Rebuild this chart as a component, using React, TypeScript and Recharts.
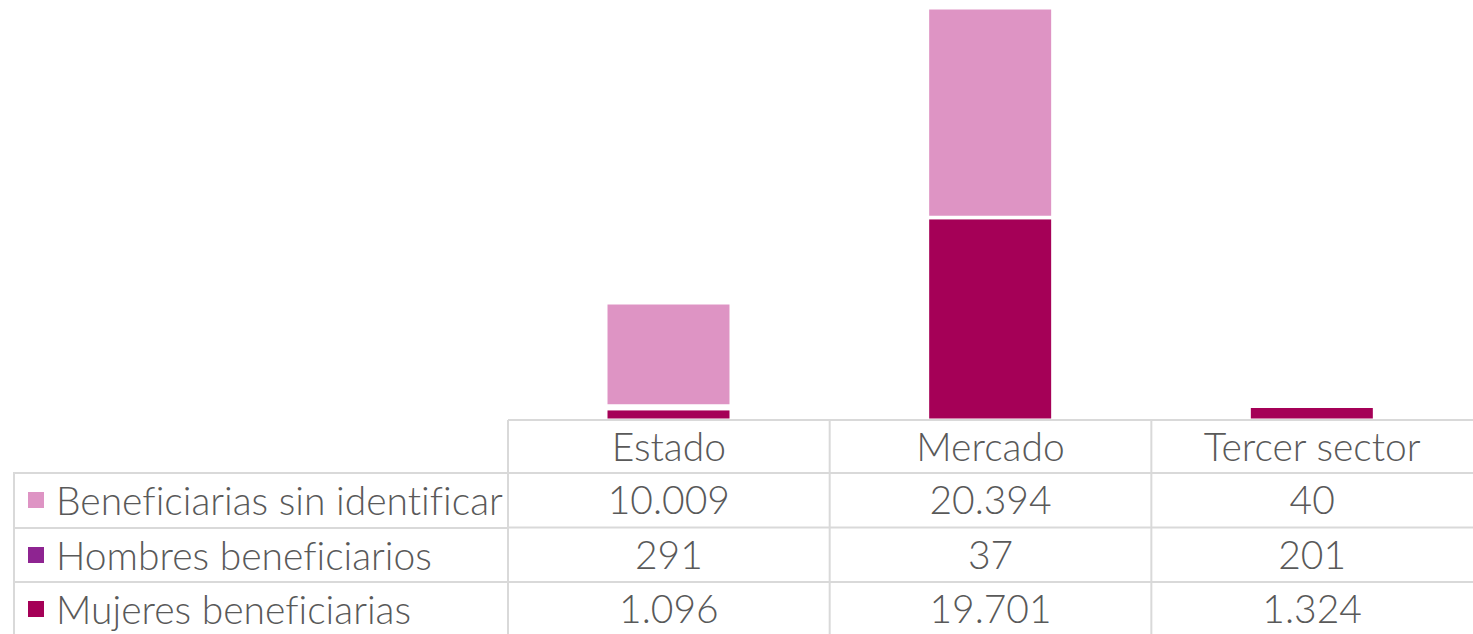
import { Bar, BarChart, XAxis, YAxis } from "recharts";

const categories = ["Estado", "Mercado", "Tercer sector"];
const mujeres = [1096, 19701, 1324];
const hombres = [291, 37, 201];
const sinIdentificar = [10009, 20394, 40];

const series = [
  { key: "mujeres", name: "Mujeres beneficiarias", color: "#A50057", values: mujeres },
  { key: "hombres", name: "Hombres beneficiarios", color: "#8E2491", values: hombres },
  { key: "sinIdentificar", name: "Beneficiarias sin identificar", color: "#DE94C4", values: sinIdentificar },
];

const data = categories.map((name, i) => ({
  name,
  mujeres: mujeres[i],
  hombres: hombres[i],
  sinIdentificar: sinIdentificar[i],
}));

const W = 1473;
const H = 634;
const LEFT = 508;
const AXIS_H = 214;
const BAND = (W - LEFT) / categories.length;
const ROW_H = 54.5;
const GRID = "#D9D9D9";
const TEXT = "#595959";
const FONT = "Lato, 'Noto Sans', sans-serif";
const FS = 39;

const fmt = (n: number) => n.toLocaleString("de-DE");

// table rows, top to bottom (reverse of the stacking order)
const tableRows = [...series].reverse();

const TableTick = (props: any) => {
  const { x, y, payload } = props;
  const i = categories.indexOf(payload.value);
  const half = BAND / 2;
  const top = y;
  const txt = { textAnchor: "middle" as const, dominantBaseline: "central" as const, fill: TEXT, fontSize: FS, fontWeight: 300, fontFamily: FONT };
  return (
    <g>
      <line x1={x - half} x2={x - half} y1={top} y2={top + AXIS_H} stroke={GRID} strokeWidth={2} />
      {tableRows.map((s, r) => (
        <line
          key={s.key}
          x1={x - half}
          x2={x + half}
          y1={top + 53 + r * ROW_H}
          y2={top + 53 + r * ROW_H}
          stroke={GRID}
          strokeWidth={2}
        />
      ))}
      <text x={x} y={top + 26} {...txt}>
        {payload.value}
      </text>
      {tableRows.map((s, r) => (
        <text key={s.key} x={x} y={top + 79 + r * ROW_H} {...txt}>
          {fmt(s.values[i])}
        </text>
      ))}
    </g>
  );
};

const TableLegend = () => (
  <div
    style={{
      position: "absolute",
      left: 0,
      top: 420 + 52,
      width: LEFT,
      fontFamily: FONT,
      fontWeight: 300,
      fontSize: FS,
      color: TEXT,
      fontVariantLigatures: "none",
    }}
  >
    {tableRows.map((s) => (
      <div
        key={s.key}
        style={{
          height: ROW_H,
          boxSizing: "border-box",
          borderTop: `2px solid ${GRID}`,
          borderLeft: `2px solid ${GRID}`,
          marginLeft: 13,
          display: "flex",
          alignItems: "center",
          paddingLeft: 13,
          whiteSpace: "nowrap",
        }}
      >
        <span style={{ width: 16, height: 16, background: s.color, marginRight: 12, flex: "none" }} />
        {s.name}
      </div>
    ))}
  </div>
);

export default function App() {
  return (
    <div style={{ position: "relative", width: W, height: H, background: "#fff", overflow: "hidden" }}>
      <style>{"body{margin:0}"}</style>
      <BarChart width={W} height={H} data={data} margin={{ top: 8, right: 0, bottom: 0, left: LEFT }} barSize={125}>
        <XAxis
          dataKey="name"
          height={AXIS_H}
          tickLine={false}
          tickSize={0}
          tickMargin={0}
          axisLine={{ stroke: GRID, strokeWidth: 2 }}
          tick={<TableTick />}
          interval={0}
        />
        <YAxis hide domain={[0, "dataMax"]} />
        {series.map((s) => (
          <Bar
            key={s.key}
            dataKey={s.key}
            name={s.name}
            stackId="a"
            fill={s.color}
            stroke="#fff"
            strokeWidth={3}
            isAnimationActive={false}
          />
        ))}
      </BarChart>
      <TableLegend />
    </div>
  );
}
